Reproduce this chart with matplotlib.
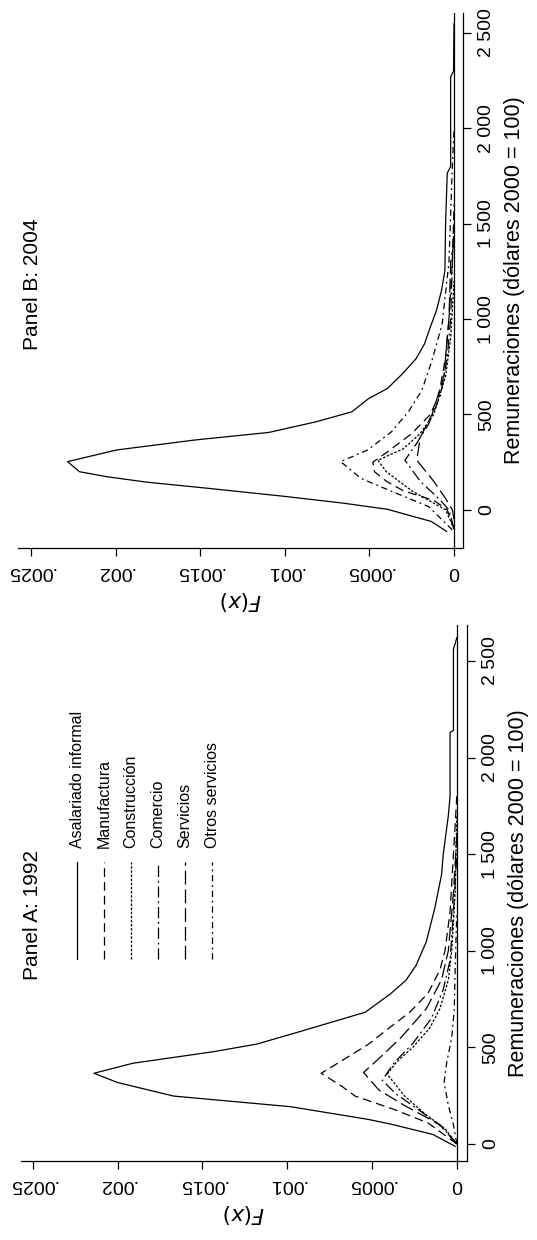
import matplotlib
matplotlib.use("Agg")
import matplotlib.pyplot as plt
from matplotlib.lines import Line2D

plt.rcParams.update({"font.family": "Liberation Sans", "font.size": 10})

W, H = 537, 1240

series_names = ["Asalariado informal", "Manufactura", "Construcción",
                "Comercio", "Servicios", "Otros servicios"]
dash_styles = ["-", (0, (7, 4)), (0, (2, 1.3)), (0, (9, 3, 1.5, 3)),
               (0, (11, 4)), (0, (5, 3, 1.5, 3))]

# Panel A: 1992  (income, density)
a_inc = [
    [-12, 49, 101, 127, 193, 248, 318, 366, 418, 477, 517, 578, 682, 778, 847,
     925, 1047, 1220, 1394, 1500, 1700, 1800, 2130, 2140, 2560, 2620],
    [0, 109, 179, 248, 300, 366, 430, 517, 600, 680, 780, 900, 1000, 1200, 1500, 1800],
    [0, 80, 150, 250, 361, 420, 500, 600, 700, 850, 1000, 1300, 1700],
    [0, 90, 180, 260, 330, 420, 520, 650, 800, 950, 1200, 1500],
    [0, 100, 200, 280, 370, 450, 550, 700, 850, 1000, 1300, 1600],
    [0, 100, 200, 320, 420, 550, 700, 900, 1200],
]
a_den = [
    [0.00001, 0.00014, 0.00038, 0.00052, 0.00098, 0.00167, 0.0020, 0.00214,
     0.00191, 0.00144, 0.00118, 0.00094, 0.00054, 0.00039, 0.00030, 0.00024,
     0.00018, 0.00013, 0.00009, 0.00008, 0.00005, 0.00004, 0.00004, 0.00002,
     0.00002, 0.0],
    [0, 0.00017, 0.00037, 0.0006, 0.00068, 0.0008, 0.00068, 0.00052, 0.0004,
     0.00028, 0.00017, 0.0001, 0.00007, 0.00004, 0.00002, 0.0],
    [0, 0.00007, 0.00018, 0.00031, 0.00041, 0.00036, 0.00026, 0.00016,
     0.0001, 0.00005, 0.00003, 0.00001, 0.0],
    [0, 0.00009, 0.00023, 0.00036, 0.00044, 0.00037, 0.00026, 0.00015,
     0.00008, 0.00004, 0.00002, 0.0],
    [0, 0.0001, 0.00031, 0.00046, 0.00055, 0.00045, 0.00033, 0.00018,
     0.00009, 0.00005, 0.00002, 0.0],
    [0, 0.00002, 0.00005, 0.000075, 0.00006, 0.00003, 0.000015, 0.00001, 0.0],
]

# Panel B: 2004
b_inc = [
    [-113, -61, 3, 35, 70, 113, 145, 174, 200, 253, 314, 366, 406, 462, 514,
     584, 636, 714, 793, 871, 949, 1045, 1150, 1254, 1500, 1766, 1800, 2270,
     2300, 2550],
    [-100, 0, 50, 100, 150, 200, 250, 300, 400, 500, 600, 800, 1000, 1300, 1600],
    [-100, 0, 100, 200, 260, 320, 400, 500, 700, 900, 1200],
    [-100, 0, 50, 150, 260, 350, 450, 600, 800, 1000, 1300, 1500],
    [-50, 0, 60, 150, 260, 380, 500, 700, 1000, 1300, 1400],
    [-105, 17, 105, 165, 253, 314, 409, 514, 627, 784, 975, 1300, 1800, 2000],
]
b_den = [
    [0.000044, 0.000134, 0.000394, 0.000654, 0.000994, 0.001454, 0.001814,
     0.002054, 0.002214, 0.002284, 0.001994, 0.001534, 0.001094, 0.000814,
     0.000604, 0.000504, 0.000394, 0.000304, 0.000224, 0.000174, 0.000144,
     0.000104, 0.000074, 0.000054, 0.00005, 0.00004, 0.00002, 0.00002,
     0.000003, 0.0],
    [0, 0.00004, 0.00012, 0.0003, 0.0004, 0.00047, 0.00048, 0.0004, 0.00025,
     0.00014, 0.00009, 0.00005, 0.00003, 0.00001, 0.0],
    [0, 0.00005, 0.00025, 0.0004, 0.00045, 0.0003, 0.0002, 0.00012, 0.00005,
     0.00002, 0.0],
    [0, 0.00003, 0.00008, 0.0002, 0.00029, 0.00022, 0.00015, 0.00008,
     0.00004, 0.00002, 0.00001, 0.0],
    [0, 0.00001, 0.00005, 0.00012, 0.00022, 0.0002, 0.00013, 0.00006,
     0.00003, 0.00002, 0.0],
    [0.00001, 0.00015, 0.00039, 0.00055, 0.00067, 0.00051, 0.00037, 0.00027,
     0.00019, 0.00013, 0.00007, 0.00003, 0.00001, 0.0],
]

dens_ticks = [0, 0.0005, 0.001, 0.0015, 0.002, 0.0025]
dens_labels = ["0", ".0005", ".001", ".0015", ".002", ".0025"]
inc_ticks = [0, 500, 1000, 1500, 2000, 2500]
inc_labels = ["0", "500", "1 000", "1 500", "2 000", "2 500"]


def px_axes(fig, left, top, right, bottom):
    return fig.add_axes([left / W, 1 - bottom / H, (right - left) / W, (bottom - top) / H])


def draw_panel(ax, incs, dens, xlim, ylim):
    for inc, den, ls in zip(incs, dens, dash_styles):
        ax.plot(den, inc, color="black", lw=0.9, linestyle=ls)
    ax.axvline(0, color="black", lw=0.9)
    ax.set_xlim(xlim)
    ax.set_ylim(ylim)
    for s in ["top", "left"]:
        ax.spines[s].set_visible(False)
    ax.spines["right"].set_linewidth(0.9)
    ax.spines["bottom"].set_linewidth(0.9)
    ax.yaxis.tick_right()
    ax.yaxis.set_label_position("right")
    ax.set_xticks(dens_ticks)
    ax.set_xticklabels(dens_labels, rotation=180, fontsize=14)
    ax.set_yticks(inc_ticks)
    ax.set_yticklabels(inc_labels, rotation=90, va="center", fontsize=14)
    ax.tick_params(length=6, width=0.9, pad=5)
    ax.set_ylabel("Remuneraciones (dólares 2000 = 100)", rotation=90, fontsize=15.5,
                  labelpad=6)
    ax.set_xlabel("$F(x)$", rotation=180, fontsize=15.5, labelpad=6)


fig = plt.figure(figsize=(W / 100, H / 100), dpi=100)

ax_b = px_axes(fig, 18, 13, 463, 548)
draw_panel(ax_b, b_inc, b_den, (0.002577, -0.000053), (-200, 2605))
ax_a = px_axes(fig, 21, 625, 467, 1161)
draw_panel(ax_a, a_inc, a_den, (0.00257, -0.00006), (-88, 2686))

fig.text(33 / W, 1 - 350 / H, "Panel B: 2004", rotation=90, ha="center", va="bottom",
         fontsize=15)
fig.text(33 / W, 1 - 980 / H, "Panel A: 1992", rotation=90, ha="center", va="bottom",
         fontsize=15)

# legend in panel A, drawn as vertical samples
leg_x = [77, 104, 131, 158, 185, 212]
for x, name, ls in zip(leg_x, series_names, dash_styles):
    fig.add_artist(Line2D([x / W, x / W], [1 - 959 / H, 1 - 862 / H], color="black",
                          lw=0.9, linestyle=ls, transform=fig.transFigure))
    fig.text(x / W, 1 - 848 / H, name, rotation=90, ha="center", va="bottom", fontsize=11.5)

fig.savefig("out.png", dpi=100)
